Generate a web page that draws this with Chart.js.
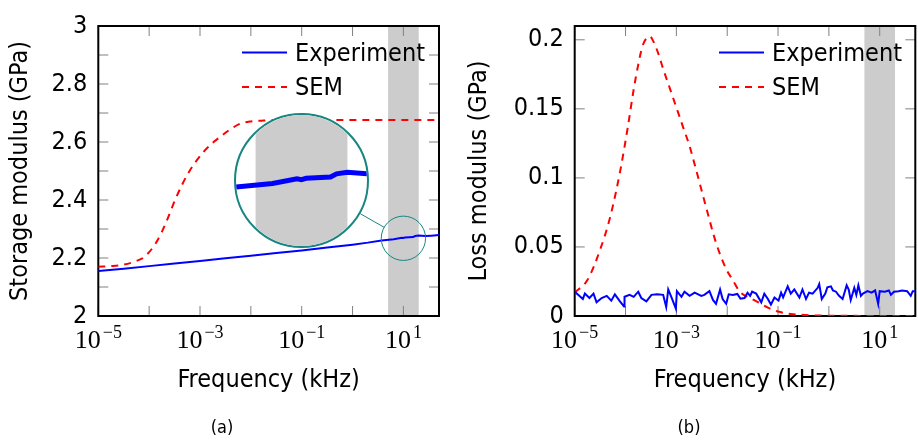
<!DOCTYPE html>
<html>
<head>
<meta charset="utf-8">
<script src="https://cdn.jsdelivr.net/npm/chart.js@4.4.1/dist/chart.umd.min.js"></script>
<style>
  body { margin: 0; background: #fff; }
  #wrap { position: relative; width: 918px; height: 444px; }
  .panel { position: absolute; top: 0; width: 459px; height: 444px; }
  .caption { position: absolute; top: 416px; width: 60px; line-height: 22px; text-align: center;
             font: 18px 'DejaVu Sans Condensed', 'DejaVu Sans', sans-serif; color: #000; }
  #zoomBox { position: absolute; border: 2px solid #178680; border-radius: 50%; overflow: hidden; background: #fff; }
  #zoomBox canvas { display: block; }
</style>
</head>
<body>
<div id="wrap">
  <div class="panel" style="left:0"><canvas id="storage" width="459" height="444"></canvas></div>
  <div class="panel" style="left:459px"><canvas id="loss" width="459" height="444"></canvas></div>
  <div id="zoomBox"><canvas id="zoom" width="131" height="131"></canvas></div>
  <div class="caption" style="left:192px">(a)</div>
  <div class="caption" style="left:659px">(b)</div>
</div>
<script>
// frequencies are stored as log10(f / kHz)
const seriesNames = ['Experiment', 'SEM'];

const storageExpLogF = [-5, -4.5, -4, -3.5, -3, -2.5, -2, -1.5, -1, -0.5, 0, 0.3, 0.57, 0.81, 0.97, 1.0, 1.03, 1.19, 1.23, 1.3, 1.43, 1.55, 1.7];
const storageExp = [2.155, 2.163, 2.172, 2.181, 2.190, 2.199, 2.208, 2.217, 2.226, 2.236, 2.246, 2.253, 2.2605, 2.2645, 2.2700, 2.2690, 2.2705, 2.2720, 2.2757, 2.2775, 2.2757, 2.2770, 2.279];

const storageSemLogF = [-5, -4.75, -4.5, -4.25, -4.1, -3.9, -3.75, -3.62, -3.49, -3.36, -3.26, -3.1, -2.93, -2.77, -2.6, -2.41, -2.21, -2, -1.75, -1.5, -1, 0, 1, 1.7];
const storageSem = [2.170, 2.172, 2.177, 2.190, 2.203, 2.243, 2.290, 2.343, 2.400, 2.450, 2.484, 2.528, 2.566, 2.594, 2.618, 2.643, 2.663, 2.671, 2.674, 2.675, 2.676, 2.676, 2.676, 2.676];

const lossExpLogF = [-5.00, -4.91, -4.84, -4.80, -4.71, -4.63, -4.57, -4.47, -4.37, -4.28, -4.21, -4.11, -4.03, -4.02,
  -3.92, -3.84, -3.75, -3.69, -3.59, -3.49, -3.38, -3.26, -3.20, -3.16, -3.10, -3.01, -2.99, -2.90, -2.84, -2.74,
  -2.64, -2.51, -2.45, -2.35, -2.28, -2.22, -2.14, -2.09, -2.02, -1.97, -1.89, -1.80, -1.74, -1.66, -1.60, -1.55,
  -1.51, -1.43, -1.33, -1.27, -1.20, -1.14, -1.07, -0.99, -0.94, -0.90, -0.81, -0.75, -0.68, -0.58, -0.52, -0.45,
  -0.39, -0.32, -0.22, -0.19, -0.14, -0.07, -0.03, 0.04, 0.08, 0.14, 0.20, 0.27, 0.35, 0.39, 0.43, 0.50, 0.54,
  0.58, 0.63, 0.67, 0.76, 0.84, 0.91, 0.97, 1.00, 1.10, 1.18, 1.22, 1.28, 1.37, 1.44, 1.54, 1.61, 1.65, 1.70];
const lossExp = [0.0176, 0.0146, 0.0123, 0.0162, 0.0130, 0.0162, 0.0099, 0.0130, 0.0146, 0.0111, 0.0157, 0.0106, 0.0069, 0.0139,
  0.0153, 0.0139, 0.0176, 0.0130, 0.0106, 0.0153, 0.0157, 0.0153, 0.0065, 0.0192, 0.0139, 0.0053, 0.0180, 0.0139, 0.0176, 0.0146,
  0.0169, 0.0146, 0.0153, 0.0180, 0.0116, 0.0088, 0.0192, 0.0123, 0.0088, 0.0157, 0.0153, 0.0160, 0.0125, 0.0130, 0.0169, 0.0146,
  0.0176, 0.0162, 0.0099, 0.0162, 0.0123, 0.0083, 0.0134, 0.0111, 0.0169, 0.0134, 0.0215, 0.0162, 0.0192, 0.0134, 0.0192, 0.0123,
  0.0169, 0.0162, 0.0204, 0.0231, 0.0123, 0.0162, 0.0208, 0.0215, 0.0185, 0.0176, 0.0146, 0.0123, 0.0222, 0.0192, 0.0116, 0.0204, 0.0153,
  0.0222, 0.0146, 0.0162, 0.0180, 0.0169, 0.0185, 0.0088, 0.0180, 0.0176, 0.0185, 0.0153, 0.0176, 0.0180, 0.0185, 0.0180, 0.0146, 0.0180, 0.0180];

const lossSemLogF = [-5, -4.75, -4.5, -4.3, -4.1, -3.95, -3.84, -3.75, -3.67, -3.59, -3.52, -3.45, -3.36, -3.26, -3.13, -3, -2.87, -2.74,
  -2.62, -2.41, -2.22, -2.02, -1.89, -1.76, -1.5, -1.37, -1.2, -1, -0.75, -0.45, 0, 0.5, 1, 1.7];
const lossSem = [0.017, 0.026, 0.048, 0.072, 0.106, 0.138, 0.164, 0.182, 0.195, 0.201, 0.2025, 0.1986, 0.1905, 0.179, 0.165, 0.151, 0.137, 0.123,
  0.107, 0.078, 0.053, 0.034, 0.026, 0.018, 0.012, 0.0095, 0.0060, 0.0032, 0.0015, 0.0007, 0.0002, 0.0001, 0, 0];

const bandKHz = [5, 20];
const xDecades = [-5, -4, -3, -2, -1, 0, 1];
const xLabelDecades = [-5, -3, -1, 1];
const storageTicks = [2, 2.1, 2.2, 2.3, 2.4, 2.5, 2.6, 2.7, 2.8, 2.9, 3];
const storageLabels = [2, 2.2, 2.4, 2.6, 2.8, 3];
const lossTicks = [0, 0.05, 0.1, 0.15, 0.2];

const SANS = "'DejaVu Sans Condensed', 'DejaVu Sans', sans-serif";
const SERIF = "'Liberation Serif', 'DejaVu Serif', serif";
const TEAL = '#178680';

Chart.defaults.font.family = SANS;
Chart.defaults.color = '#000';

const pts = (logF, vals) => logF.map((e, i) => ({ x: Math.pow(10, e), y: vals[i] }));

function experimentSet(logF, vals, width) {
  return { label: seriesNames[0], data: pts(logF, vals), borderColor: '#0000ff', borderWidth: width,
           pointRadius: 0, tension: 0 };
}
function semSet(logF, vals) {
  return { label: seriesNames[1], data: pts(logF, vals), borderColor: '#ff0000', borderWidth: 2,
           borderDash: [7, 6], pointRadius: 0, cubicInterpolationMode: 'monotone' };
}

// shading, inner ticks, frame, legend and decade labels
function decor(cfg) {
  return {
    id: 'decor',
    beforeDatasetsDraw(chart) {
      const { ctx, chartArea: a, scales: { x, y } } = chart;
      ctx.save();
      const x1 = x.getPixelForValue(bandKHz[0]), x2 = x.getPixelForValue(bandKHz[1]);
      ctx.fillStyle = '#cccccc';
      ctx.fillRect(x1, a.top, x2 - x1, a.bottom - a.top);
      if (cfg.axes) {
        ctx.strokeStyle = '#808080';
        ctx.lineWidth = 1;
        ctx.beginPath();
        xDecades.forEach(d => {
          const px = x.getPixelForValue(Math.pow(10, d));
          ctx.moveTo(px, a.bottom); ctx.lineTo(px, a.bottom - 10);
          ctx.moveTo(px, a.top); ctx.lineTo(px, a.top + 10);
        });
        cfg.yTicks.forEach(v => {
          const py = y.getPixelForValue(v);
          ctx.moveTo(a.left, py); ctx.lineTo(a.left + 10, py);
          ctx.moveTo(a.right, py); ctx.lineTo(a.right - 10, py);
        });
        ctx.stroke();
        ctx.strokeStyle = '#000';
        ctx.lineWidth = 2;
        ctx.strokeRect(a.left, a.top, a.right - a.left, a.bottom - a.top);
      }
      ctx.restore();
    },
    afterDatasetsDraw(chart) {
      if (!cfg.axes) return;
      const { ctx, chartArea: a, scales: { x, y } } = chart;
      ctx.save();
      // legend
      chart.data.datasets.forEach((ds, i) => {
        const ry = cfg.legend.rows[i];
        ctx.strokeStyle = ds.borderColor;
        ctx.lineWidth = 2;
        ctx.setLineDash(ds.borderDash || []);
        ctx.beginPath();
        ctx.moveTo(cfg.legend.x0, ry); ctx.lineTo(cfg.legend.x1, ry);
        ctx.stroke();
        ctx.setLineDash([]);
        ctx.fillStyle = '#000';
        ctx.font = '25px ' + SANS;
        ctx.textBaseline = 'alphabetic';
        ctx.fillText(ds.label, cfg.legend.tx, ry + 8);
      });
      // decade labels 10^n
      xLabelDecades.forEach(d => {
        const px = x.getPixelForValue(Math.pow(10, d));
        const exp = d < 0 ? '\u2212' + (-d) : String(d);
        ctx.font = '26px ' + SERIF;
        const wb = ctx.measureText('10').width;
        ctx.font = '18px ' + SERIF;
        const we = ctx.measureText(exp).width;
        const x0 = px - (wb + 2 + we) / 2;
        ctx.font = '26px ' + SERIF;
        ctx.fillText('10', x0, a.bottom + 32);
        ctx.font = '18px ' + SERIF;
        ctx.fillText(exp, x0 + wb + 2, a.bottom + 22);
      });
      // zoom marker and connector
      if (cfg.zoom) {
        const z = cfg.zoom;
        const sx = x.getPixelForValue(z.f), sy = y.getPixelForValue(z.g);
        const sr = (z.r + 1) / z.mag;
        ctx.strokeStyle = TEAL;
        ctx.lineWidth = 1;
        ctx.beginPath();
        ctx.arc(sx, sy, sr, 0, Math.PI * 2);
        ctx.stroke();
        const dx = sx - z.cx, dy = sy - z.cy, len = Math.hypot(dx, dy);
        const ux = dx / len, uy = dy / len;
        ctx.beginPath();
        ctx.moveTo(z.cx + ux * (z.r + 2), z.cy + uy * (z.r + 2));
        ctx.lineTo(sx - ux * sr, sy - uy * sr);
        ctx.stroke();
      }
      ctx.restore();
    }
  };
}

function yScale(min, max, ticks, label, fmt) {
  return {
    min: min, max: max,
    grid: { display: false, drawTicks: false }, border: { display: false },
    afterBuildTicks: s => { s.ticks = ticks.map(v => ({ value: v })); },
    ticks: { padding: 11, font: { size: 25 }, callback: fmt },
    title: { display: true, text: label, font: { size: 25 }, padding: { top: 5, bottom: 0 } }
  };
}

function xScale() {
  return {
    type: 'logarithmic', min: 1e-5, max: Math.pow(10, 1.7),
    grid: { display: false, drawTicks: false }, border: { display: false },
    afterBuildTicks: s => { s.ticks = xDecades.map(d => ({ value: Math.pow(10, d) })); },
    afterFit: s => { s.height = 128; },
    ticks: { display: false },
    title: { display: true, text: 'Frequency (kHz)', font: { size: 25 }, padding: { top: 0, bottom: 49 } }
  };
}

function makeChart(id, datasets, yOpts, yWidth, padRight, cfg) {
  yOpts.afterFit = s => { s.width = yWidth; };
  return new Chart(document.getElementById(id), {
    type: 'line',
    data: { datasets: datasets },
    options: {
      responsive: false, animation: false,
      layout: { padding: { top: 14, right: padRight, left: 0, bottom: 0 } },
      plugins: { legend: { display: false }, tooltip: { enabled: false } },
      scales: { x: xScale(), y: yOpts }
    },
    plugins: [decor(cfg)]
  });
}

const zoomSpot = { cx: 301.7, cy: 180.3, r: 65.5, mag: 3, f: 10, g: 2.268 };

const storageChart = makeChart('storage',
  [experimentSet(storageExpLogF, storageExp, 2), semSet(storageSemLogF, storageSem)],
  yScale(2, 3, storageTicks, 'Storage modulus (GPa)',
    v => storageLabels.some(l => Math.abs(l - v) < 1e-6) ? String(+v.toFixed(1)) : ''),
  98.3, 20,
  { axes: true, yTicks: storageTicks, legend: { x0: 242, x1: 287, tx: 295, rows: [52.5, 87] }, zoom: zoomSpot });

makeChart('loss',
  [experimentSet(lossExpLogF, lossExp, 2), semSet(lossSemLogF, lossSem)],
  yScale(0, 0.21, lossTicks, 'Loss modulus (GPa)', v => String(+v.toFixed(2))),
  115.7, 2.7,
  { axes: true, yTicks: lossTicks, legend: { x0: 260, x1: 305, tx: 313, rows: [52.5, 87] } });

// magnified view of the storage curve around 10 kHz
const box = document.getElementById('zoomBox');
box.style.left = (zoomSpot.cx - zoomSpot.r - 2) + 'px';
box.style.top = (zoomSpot.cy - zoomSpot.r - 2) + 'px';
const sx = storageChart.scales.x, sy = storageChart.scales.y;
const decadePx = sx.getPixelForValue(10) - sx.getPixelForValue(1);
const unitPx = sy.getPixelForValue(2) - sy.getPixelForValue(3);
const halfDec = zoomSpot.r / (zoomSpot.mag * decadePx);
const halfG = zoomSpot.r / (zoomSpot.mag * unitPx);
const fc = Math.log10(zoomSpot.f);

new Chart(document.getElementById('zoom'), {
  type: 'line',
  data: { datasets: [experimentSet(storageExpLogF, storageExp, 5)] },
  options: {
    responsive: false, animation: false,
    layout: { padding: 0 },
    plugins: { legend: { display: false }, tooltip: { enabled: false } },
    scales: {
      x: { type: 'logarithmic', display: false, min: Math.pow(10, fc - halfDec), max: Math.pow(10, fc + halfDec) },
      y: { display: false, min: zoomSpot.g - halfG, max: zoomSpot.g + halfG }
    }
  },
  plugins: [decor({ axes: false })]
});
</script>
</body>
</html>
